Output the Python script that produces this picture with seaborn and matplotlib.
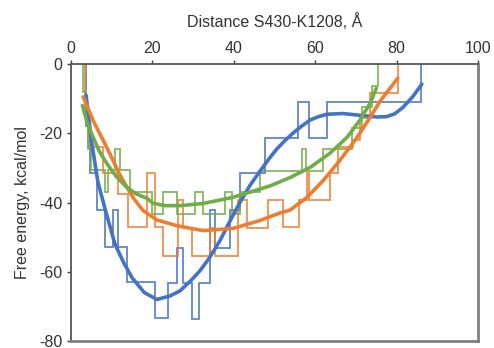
import numpy as np
import matplotlib.pyplot as plt
import pandas as pd
import seaborn as sns

sns.set_style("white")
plt.rcParams['font.family'] = ['Liberation Sans', 'DejaVu Sans']
plt.rcParams['axes.unicode_minus'] = False

# step profiles (bin edges, free energy per bin)
blue_edges = [3.6, 4.7, 6.4, 8.4, 10.3, 11.5, 13.8, 20.6, 23.8, 26.1, 27.5, 29.7, 31.4,
              34.2, 35.4, 39.0, 41.5, 47.7, 55.8, 58.5, 62.9, 86.0]
blue_vals = [-18, -31.6, -42.3, -52.8, -42.3, -52.8, -63, -73.4, -63.2, -53, -63.2, -73.6,
             -63.2, -42.3, -53, -42.3, -31.6, -21.5, -11, -21.5, -11]

orange_edges = [3.5, 4.2, 7.9, 11.5, 14.0, 18.7, 20.6, 22.6, 26.3, 27.5, 29.7, 34.2, 35.4,
                41.0, 43.2, 48.3, 52.0, 56.0, 58.0, 58.5, 63.6, 65.6, 69.3, 71.0, 73.5, 80.3]
orange_vals = [-14, -24, -31.6, -37.4, -47.2, -31.6, -47.2, -55.4, -39.4, -47.5, -55.4,
               -47.5, -55.4, -39.4, -47.5, -39.4, -47.2, -39.4, -31.6, -39.4, -31.6, -24,
               -22, -15.7, -8.3]

green_edges = [2.9, 3.6, 4.2, 4.8, 8.4, 9.1, 10.8, 12.0, 14.5, 20.0, 22.6, 26.0, 30.5, 32.5,
               37.8, 39.5, 41.5, 46.4, 56.8, 57.8, 62.0, 69.0, 71.5, 74.0, 75.4]
green_vals = [-8, -17, -24.6, -30.7, -37, -30.7, -24.6, -30.7, -37, -43.3, -37, -43.3, -37,
              -43.3, -37, -43.3, -37, -31, -24.6, -31, -24.6, -18.5, -12.4, -6.4]

# smooth trend curves
blue_fit_x = [3.7, 5.0, 6.6, 8.4, 10.8, 13.0, 15.0, 18.0, 21.1, 24.3, 26.8, 29.5, 31.7, 34.0,
              36.6, 39.0, 41.5, 44.0, 46.4, 48.9, 50.6, 52.5, 54.5, 56.6, 58.7, 60.8, 62.9,
              66.8, 71.0, 75.2, 77.5, 79.5, 81.5, 84.0, 86.2]
blue_fit_y = [-9, -22, -34, -42, -52, -57.5, -61.7, -66, -68, -67, -65.5, -62.5, -59.7, -56,
              -51, -45.5, -40, -35, -31, -27, -24.5, -22.2, -20, -18, -16.2, -15.2, -14.5,
              -14.3, -14.8, -15.3, -15.2, -14.4, -12.6, -9.4, -5.8]

orange_fit_x = [3.0, 5.5, 7.9, 10.0, 11.8, 13.7, 15.5, 17.7, 21.0, 26.0, 32.4, 39.8, 46.4,
                51.4, 53.8, 58.0, 62.0, 66.1, 70.3, 73.5, 75.9, 80.3]
orange_fit_y = [-9.5, -16.5, -22, -27, -31.5, -35.5, -39, -42.3, -45, -46.7, -48.1, -47.5,
                -45.2, -43, -42.2, -38.5, -33.6, -27.8, -21.2, -15.4, -10.8, -4.1]

green_fit_x = [2.8, 4.0, 5.4, 7.0, 8.8, 11.0, 13.7, 16.0, 18.7, 20.1, 23.0, 26.8, 32.4, 39.8,
               44.0, 48.9, 53.8, 58.7, 63.6, 67.8, 71.0, 73.5, 75.0]
green_fit_y = [-12, -17, -21, -25.3, -28.7, -32.3, -35.6, -37.5, -38.8, -40.2, -40.9, -40.9,
               -40.3, -38.5, -37, -35.2, -32.8, -29.9, -25.8, -21.2, -16.2, -11.3, -7]

colors = {"blue": "#4472C4", "orange": "#ED7D31", "green": "#70AD47"}

fig = plt.figure(figsize=(4.94, 3.48), dpi=100)
ax = fig.add_axes([0.1437, 0.0201, 0.8239, 0.7959])

steps = [(blue_edges, blue_vals, "blue"),
         (orange_edges, orange_vals, "orange"),
         (green_edges, green_vals, "green")]
for edges, vals, name in steps:
    ax.stairs(vals, edges, baseline=0, color=colors[name], lw=1.3, alpha=0.85)

fits = pd.concat([
    pd.DataFrame({"x": blue_fit_x, "y": blue_fit_y, "s": "blue"}),
    pd.DataFrame({"x": orange_fit_x, "y": orange_fit_y, "s": "orange"}),
    pd.DataFrame({"x": green_fit_x, "y": green_fit_y, "s": "green"}),
])
sns.lineplot(data=fits, x="x", y="y", hue="s", palette=colors, lw=2.6,
             sort=False, estimator=None, legend=False, ax=ax)

ax.set_xlim(0, 100)
ax.set_ylim(-80, 0)
ax.set_xticks([0, 20, 40, 60, 80, 100])
ax.set_yticks([0, -20, -40, -60, -80])
ax.xaxis.set_ticks_position("top")
ax.xaxis.set_label_position("top")
ax.tick_params(axis="x", top=True, bottom=False, length=3, width=1, color="#404040",
               labelsize=11.5, labelcolor="#333333", pad=3)
ax.tick_params(axis="y", left=True, length=3, width=1, color="#404040",
               labelsize=11.5, labelcolor="#333333", pad=3)
ax.set_xlabel("Distance S430-K1208, Å", fontsize=11.5, color="#333333", labelpad=10)
ax.set_ylabel("Free energy, kcal/mol", fontsize=11.5, color="#333333", labelpad=7)

for side in ["left", "top"]:
    ax.spines[side].set_color("#555555")
    ax.spines[side].set_linewidth(1.3)
for side in ["right", "bottom"]:
    ax.spines[side].set_color("#808080")
    ax.spines[side].set_linewidth(2)
ax.grid(False)

fig.savefig("out.png", dpi=100)
